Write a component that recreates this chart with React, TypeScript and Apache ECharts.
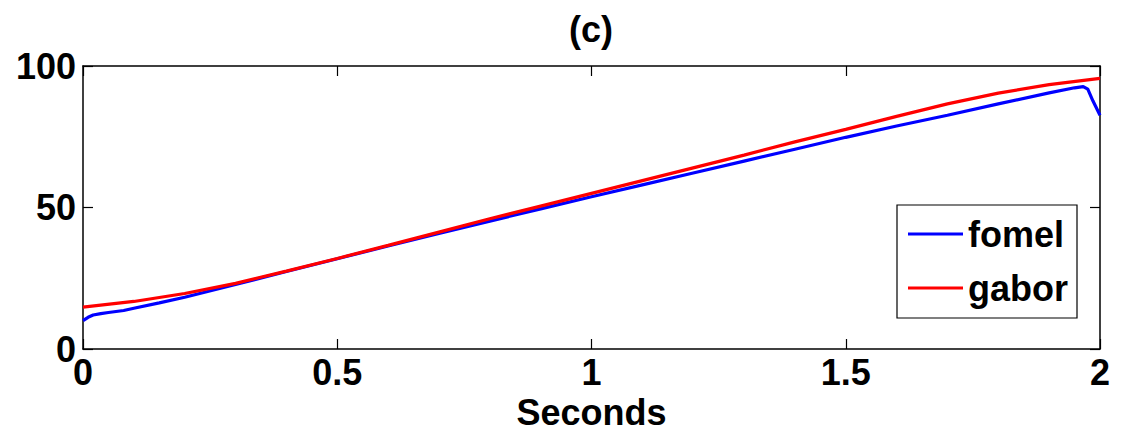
import React, { useEffect, useRef } from "react";
import * as echarts from "echarts";

// Time axis (seconds) and values for each method
const fomelT = [0, 0.01, 0.02, 0.035, 0.05, 0.08, 0.1, 0.15, 0.2, 0.3, 0.4, 0.5, 0.6, 0.7, 0.8, 0.9, 1.0, 1.1, 1.2, 1.3, 1.4, 1.5, 1.6, 1.7, 1.8, 1.9, 1.95, 1.967, 1.976, 1.986, 2.0];
const fomelV = [10.0, 11.2, 12.0, 12.5, 12.9, 13.6, 14.4, 16.3, 18.3, 22.8, 27.4, 31.9, 36.4, 40.8, 45.2, 49.5, 53.8, 58.0, 62.2, 66.4, 70.6, 74.8, 78.8, 82.6, 86.6, 90.5, 92.3, 92.7, 91.8, 87.7, 82.6];

const gaborT = [0, 0.1, 0.2, 0.3, 0.4, 0.5, 0.6, 0.7, 0.8, 0.9, 1.0, 1.1, 1.2, 1.3, 1.4, 1.5, 1.6, 1.7, 1.8, 1.9, 2.0];
const gaborV = [14.8, 16.8, 19.6, 23.2, 27.5, 32.0, 36.6, 41.3, 46.0, 50.5, 55.0, 59.5, 64.0, 68.5, 73.2, 77.6, 82.2, 86.6, 90.4, 93.4, 95.6];

const seriesNames = ["fomel", "gabor"];
const seriesColors = ["#0000ff", "#ff0000"];
const titleText = "(c)";
const xAxisName = "Seconds";

const FONT = "'Liberation Sans', Arial, Helvetica, sans-serif";

export default function App() {
  const ref = useRef<HTMLDivElement>(null);

  useEffect(() => {
    if (!ref.current) return;
    const chart = echarts.init(ref.current, undefined, { renderer: "svg" });

    const axisLine = { show: true, onZero: false, lineStyle: { color: "#000", width: 1.5 } };
    const tick = { show: true, inside: true, length: 10, lineStyle: { color: "#000", width: 1.2 } };
    const label = { color: "#000", fontFamily: FONT, fontWeight: "bold" as const, fontSize: 36 };

    chart.setOption({
      animation: false,
      backgroundColor: "#fff",
      grid: {
        left: 83,
        top: 66,
        width: 1017,
        height: 283,
        containLabel: false,
        outerBoundsMode: "none",
      },
      graphic: [
        {
          type: "text",
          x: 591,
          y: 29,
          style: {
            text: titleText,
            fill: "#000",
            font: `bold 36px ${FONT}`,
            textAlign: "center",
            textVerticalAlign: "middle",
          },
        },
      ],
      legend: {
        orient: "vertical",
        left: 897,
        top: 205,
        data: seriesNames.map((name, i) => ({
          name,
          icon: "rect",
          itemStyle: { color: seriesColors[i] },
        })),
        itemWidth: 55,
        itemHeight: 3,
        itemGap: 18,
        padding: [11, 9, 12, 11],
        backgroundColor: "#fff",
        borderColor: "#000",
        borderWidth: 1.2,
        borderRadius: 0,
        textStyle: { ...label, lineHeight: 36 },
      },
      xAxis: [
        {
          type: "value",
          position: "bottom",
          min: 0,
          max: 2,
          interval: 0.5,
          name: xAxisName,
          nameLocation: "middle",
          nameGap: 49,
          nameMoveOverlap: false,
          nameTextStyle: { ...label, lineHeight: 28 },
          axisLine,
          axisTick: tick,
          axisLabel: { ...label, lineHeight: 28, margin: 9, showMinLabel: true, showMaxLabel: true },
          splitLine: { show: false },
        },
        {
          type: "value",
          position: "top",
          min: 0,
          max: 2,
          interval: 0.5,
          axisLine,
          axisTick: tick,
          axisLabel: { show: false },
          splitLine: { show: false },
        },
      ],
      yAxis: [
        {
          type: "value",
          position: "left",
          min: 0,
          max: 100,
          interval: 50,
          axisLine,
          axisTick: tick,
          axisLabel: { ...label, margin: 7 },
          splitLine: { show: false },
        },
        {
          type: "value",
          position: "right",
          min: 0,
          max: 100,
          interval: 50,
          axisLine,
          axisTick: tick,
          axisLabel: { show: false },
          splitLine: { show: false },
        },
      ],
      series: [
        {
          name: seriesNames[0],
          type: "line",
          xAxisIndex: 0,
          yAxisIndex: 0,
          symbol: "none",
          data: fomelT.map((t, i) => [t, fomelV[i]]),
          lineStyle: { color: seriesColors[0], width: 3.2 },
          itemStyle: { color: seriesColors[0] },
        },
        {
          name: seriesNames[1],
          type: "line",
          xAxisIndex: 0,
          yAxisIndex: 0,
          symbol: "none",
          data: gaborT.map((t, i) => [t, gaborV[i]]),
          lineStyle: { color: seriesColors[1], width: 3.2 },
          itemStyle: { color: seriesColors[1] },
        },
      ],
    });

    return () => chart.dispose();
  }, []);

  return (
    <div
      ref={ref}
      style={{ position: "fixed", left: 0, top: 0, width: 1122, height: 431, background: "#fff" }}
    />
  );
}
